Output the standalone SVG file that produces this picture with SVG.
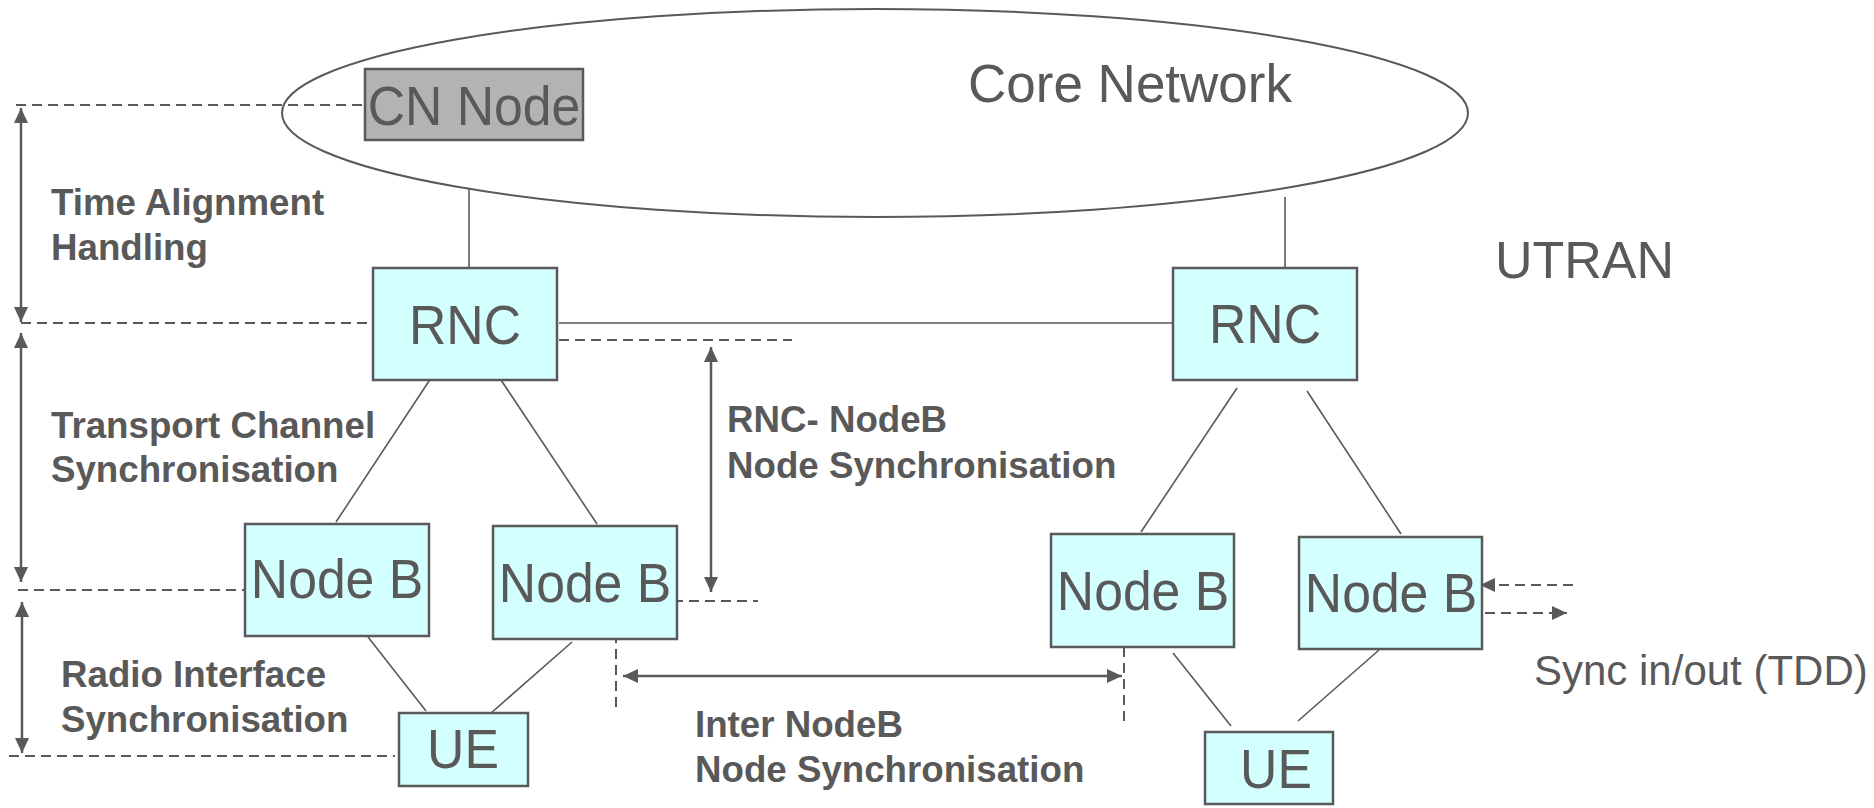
<svg xmlns="http://www.w3.org/2000/svg" width="1874" height="808" viewBox="0 0 1874 808">
<defs>
<style>
.box{fill:#d4ffff;stroke:#595959;stroke-width:2.5}
.cn{fill:#b3b3b3;stroke:#595959;stroke-width:2.5}
.lbl{font-family:"Liberation Sans",Arial,sans-serif;font-size:55px;fill:#595959;text-anchor:middle}
.big{font-family:"Liberation Sans",Arial,sans-serif;fill:#595959}
.bold{font-family:"Liberation Sans",Arial,sans-serif;font-size:36.7px;font-weight:bold;fill:#595959}
.ln{stroke:#595959;stroke-width:1.6;fill:none}
.dash{stroke:#595959;stroke-width:2;stroke-dasharray:10 6;fill:none}
.arr{stroke:#595959;stroke-width:2.5;fill:none}
</style>
<marker id="ah" markerUnits="userSpaceOnUse" markerWidth="16" markerHeight="14" refX="15" refY="7" orient="auto-start-reverse">
<path d="M0,0 L15,7 L0,14 z" fill="#595959"/>
</marker>
</defs>
<rect width="1874" height="808" fill="#ffffff"/>
<g id="core-network">
<ellipse cx="875" cy="113" rx="593" ry="104" fill="none" stroke="#595959" stroke-width="2"/>
<text class="big" x="968" y="102" font-size="53">Core Network</text>
</g>
<text class="big" x="1495" y="278" font-size="52">UTRAN</text>
<g id="connectors">
<line class="ln" x1="469" y1="188" x2="469" y2="268"/>
<line class="ln" x1="1285" y1="197" x2="1285" y2="275"/>
<line class="ln" x1="559" y1="323" x2="1172" y2="323"/>
<line class="ln" x1="431" y1="378" x2="336" y2="522"/>
<line class="ln" x1="501" y1="380" x2="597" y2="524"/>
<line class="ln" x1="368" y1="637" x2="426" y2="711"/>
<line class="ln" x1="572" y1="642" x2="491" y2="713"/>
<line class="ln" x1="1237" y1="388" x2="1141" y2="532"/>
<line class="ln" x1="1307" y1="391" x2="1401" y2="534"/>
<line class="ln" x1="1173" y1="653" x2="1231" y2="726"/>
<line class="ln" x1="1379" y1="650" x2="1298" y2="721"/>
<line class="dash" x1="16" y1="105" x2="362" y2="105"/>
<line class="dash" x1="21" y1="323" x2="368" y2="323"/>
<line class="dash" x1="559" y1="340" x2="792" y2="340"/>
<line class="dash" x1="18" y1="590" x2="249" y2="590"/>
<line class="dash" x1="673" y1="601" x2="758" y2="601"/>
<line class="dash" x1="9" y1="756" x2="395" y2="756"/>
<line class="dash" x1="616" y1="633" x2="616" y2="710"/>
<line class="dash" x1="1124" y1="647" x2="1124" y2="723"/>
<line class="arr" x1="21" y1="108" x2="21" y2="322" marker-start="url(#ah)" marker-end="url(#ah)"/>
<line class="arr" x1="21" y1="333" x2="21" y2="582" marker-start="url(#ah)" marker-end="url(#ah)"/>
<line class="arr" x1="22" y1="602" x2="22" y2="753" marker-start="url(#ah)" marker-end="url(#ah)"/>
<line class="arr" x1="711" y1="347" x2="711" y2="592" marker-start="url(#ah)" marker-end="url(#ah)"/>
<line class="arr" x1="623" y1="676" x2="1122" y2="676" marker-start="url(#ah)" marker-end="url(#ah)"/>
<line class="dash" x1="1573" y1="585" x2="1480" y2="585" marker-end="url(#ah)"/>
<line class="dash" x1="1485" y1="613" x2="1567" y2="613" marker-end="url(#ah)"/>
</g>
<g id="cn-node"><rect class="cn" x="365" y="69" width="218" height="71"/><text class="lbl" transform="translate(474 125) scale(0.94 1)">CN Node</text></g>
<g id="rnc-left"><rect class="box" x="373" y="268" width="184" height="112"/><text class="lbl" transform="translate(465 344) scale(0.94 1)">RNC</text></g>
<g id="rnc-right"><rect class="box" x="1173" y="268" width="184" height="112"/><text class="lbl" transform="translate(1265 343) scale(0.94 1)">RNC</text></g>
<g id="nodeb-l1"><rect class="box" x="245" y="524" width="184" height="112"/><text class="lbl" transform="translate(337 598) scale(0.94 1)">Node B</text></g>
<g id="nodeb-l2"><rect class="box" x="493" y="526" width="184" height="113"/><text class="lbl" transform="translate(585 602) scale(0.94 1)">Node B</text></g>
<g id="ue-left"><rect class="box" x="399" y="713" width="129" height="73"/><text class="lbl" transform="translate(463 768) scale(0.94 1)">UE</text></g>
<g id="nodeb-r1"><rect class="box" x="1051" y="534" width="183" height="113"/><text class="lbl" transform="translate(1143 610) scale(0.94 1)">Node B</text></g>
<g id="nodeb-r2"><rect class="box" x="1299" y="537" width="183" height="112"/><text class="lbl" transform="translate(1391 612) scale(0.94 1)">Node B</text></g>
<g id="ue-right"><rect class="box" x="1205" y="732" width="128" height="72"/><text class="lbl" transform="translate(1276 788) scale(0.94 1)">UE</text></g>
<g id="labels">
<text class="bold" x="51" y="215">Time Alignment</text>
<text class="bold" x="51" y="260">Handling</text>
<text class="bold" x="51" y="438">Transport Channel</text>
<text class="bold" x="51" y="482">Synchronisation</text>
<text class="bold" x="61" y="687">Radio Interface</text>
<text class="bold" x="61" y="732">Synchronisation</text>
<text class="bold" x="727" y="432">RNC- NodeB</text>
<text class="bold" x="727" y="478">Node Synchronisation</text>
<text class="bold" x="695" y="737">Inter NodeB</text>
<text class="bold" x="695" y="782">Node Synchronisation</text>
<text class="big" x="1534" y="685" font-size="42">Sync in/out (TDD)</text>
</g>
</svg>
